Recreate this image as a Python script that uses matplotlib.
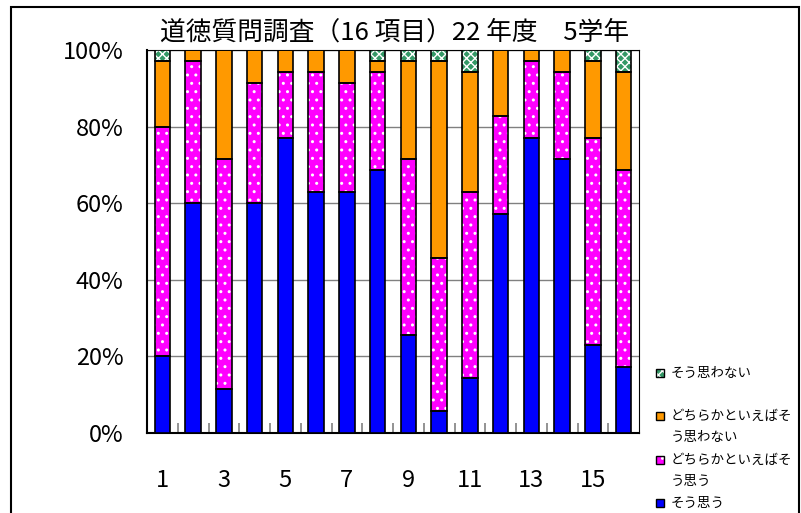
import numpy as np
import matplotlib
matplotlib.use("Agg")
import matplotlib.pyplot as plt
from matplotlib.patches import Rectangle

plt.rcParams['font.family'] = ['Noto Sans CJK JP', 'DejaVu Sans']
plt.rcParams['hatch.linewidth'] = 1.0

# 16 items, 35 pupils each (counts)
items = np.arange(1, 17)
so_omou = [7, 21, 4, 21, 27, 22, 22, 24, 9, 2, 5, 20, 27, 25, 8, 6]
dochira_omou = [21, 13, 21, 11, 6, 11, 10, 9, 16, 14, 17, 9, 7, 8, 19, 18]
dochira_omowanai = [6, 1, 10, 3, 2, 2, 3, 1, 9, 18, 11, 6, 1, 2, 7, 9]
omowanai = [1, 0, 0, 0, 0, 0, 0, 1, 1, 1, 2, 0, 0, 0, 1, 2]

series_labels = ["そう思う", "どちらかといえばそう思う", "どちらかといえばそう思わない", "そう思わない"]
legend_lines = [["そう思う"], ["どちらかといえばそ", "う思う"],
                ["どちらかといえばそ", "う思わない"], ["そう思わない"]]
colors = ["#0000FF", "#FF00FF", "#FF9900", "#339966"]
hatches = [None, "..", None, "xxxx"]

title = "道徳質問調査（16 項目）22 年度　5学年"


def to_percent(series):
    counts = np.array(series, dtype=float)
    return counts / counts.sum(axis=0) * 100


def draw_bars(ax, pct):
    bottom = np.zeros(len(items))
    for i in range(len(pct)):
        # fill + white pattern, then a black outline on top
        ax.bar(items, pct[i], 0.5, bottom=bottom, color=colors[i],
               hatch=hatches[i], edgecolor="white", linewidth=0, zorder=3)
        ax.bar(items, pct[i], 0.5, bottom=bottom, facecolor="none",
               edgecolor="black", linewidth=1.2, zorder=4)
        bottom += pct[i]


def draw_legend(fig):
    W, H = 801, 513
    first_line = [503, 460, 416, 373]
    for i in range(len(series_labels)):
        y = first_line[i]
        fig.add_artist(Rectangle((656 / W, 1 - (y + 4) / H), 8 / W, 8 / H,
                                 transform=fig.transFigure, facecolor=colors[i],
                                 hatch=hatches[i], edgecolor="white", linewidth=0))
        fig.add_artist(Rectangle((656 / W, 1 - (y + 4) / H), 8 / W, 8 / H,
                                 transform=fig.transFigure, facecolor="none",
                                 edgecolor="black", linewidth=1.0))
        for k, line in enumerate(legend_lines[i]):
            fig.text(671 / W, 1 - (y + 21 * k) / H, line, fontsize=9.7,
                     va="center", ha="left")


pct = to_percent([so_omou, dochira_omou, dochira_omowanai, omowanai])

fig = plt.figure(figsize=(8.01, 5.13), dpi=100)
ax = fig.add_axes([147 / 801, 1 - 433 / 513, 492 / 801, 383 / 513])

draw_bars(ax, pct)

ax.set_xlim(0.5, 16.5)
ax.set_ylim(0, 100)
ax.set_yticks(np.arange(0, 101, 20))
ax.set_yticklabels([f"{v}%" for v in range(0, 101, 20)], fontsize=17)
ax.set_xticks(items[::2])
ax.set_xticklabels([str(v) for v in items[::2]], fontsize=17)
ax.set_xticks(np.arange(1.5, 16.5, 1), minor=True)
ax.tick_params(axis="y", length=0, pad=17)
ax.tick_params(axis="x", which="major", length=0, pad=26)
ax.tick_params(axis="x", which="minor", direction="in", length=7, color="#808080", width=1.2)
ax.yaxis.grid(True, color="#808080", linewidth=1.0, zorder=0)
ax.set_axisbelow(True)
for side in ["top", "right"]:
    ax.spines[side].set_color("black")
    ax.spines[side].set_linewidth(0.8)
for side in ["left", "bottom"]:
    ax.spines[side].set_linewidth(1.5)

fig.text(395 / 801, 1 - 33 / 513, title, fontsize=18.5, ha="center", va="center")

draw_legend(fig)

# chart frame
fig.add_artist(Rectangle((11 / 801, -0.1), (799 - 11) / 801, 0.1 + 1 - 7 / 513,
                         transform=fig.transFigure, fill=False,
                         edgecolor="black", linewidth=1.5))

fig.savefig("out.png", dpi=100)
